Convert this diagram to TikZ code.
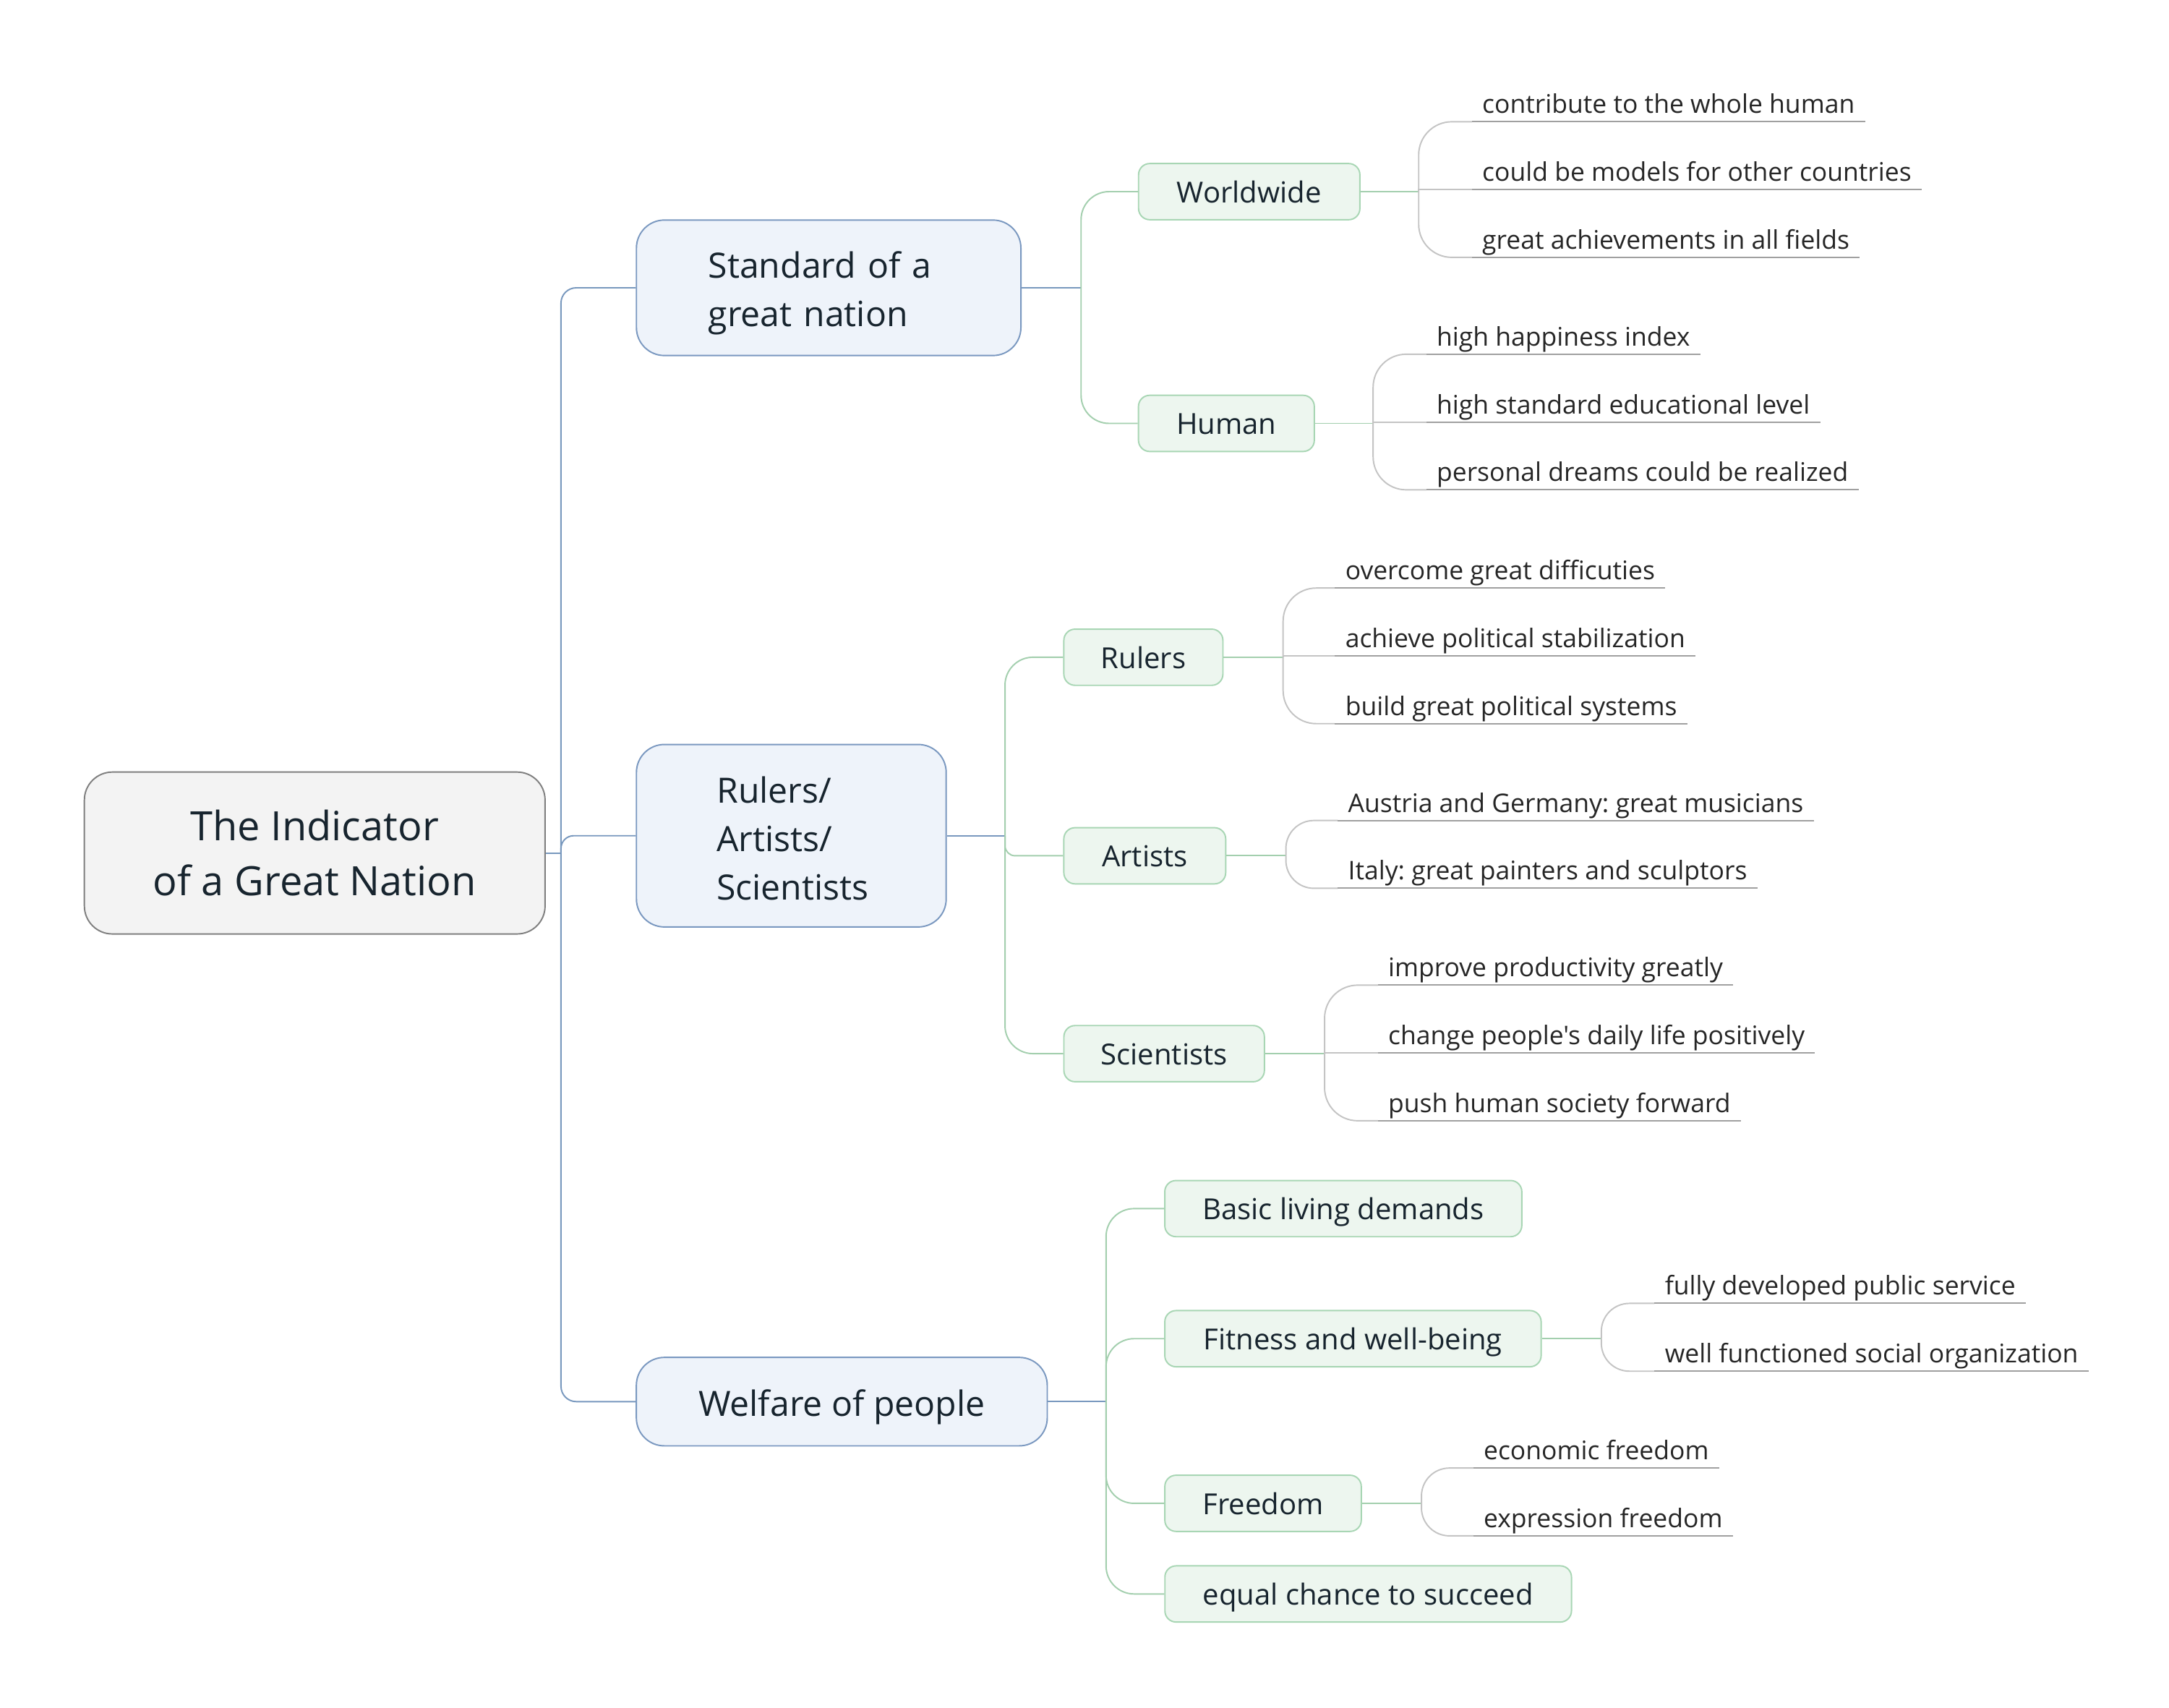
\documentclass[tikz,border=0pt]{standalone}
\usepackage{fontspec}
\setmainfont{Open Sans}[Ligatures=TeXOff]
\frenchspacing
\definecolor{rootfill}{HTML}{F3F3F3}
\definecolor{rootdraw}{HTML}{7F7F7F}
\definecolor{l1fill}{HTML}{EEF3FA}
\definecolor{l1draw}{HTML}{7A98C0}
\definecolor{l2fill}{HTML}{EDF6EF}
\definecolor{l2draw}{HTML}{A8D6B4}
\definecolor{blueline}{HTML}{7898BE}
\definecolor{greenline}{HTML}{A3CFAE}
\definecolor{grayline}{HTML}{C4C4C4}
\definecolor{ulinecol}{HTML}{A0A0A0}
\definecolor{txt}{HTML}{17242E}
\definecolor{leaftxt}{HTML}{262626}
\begin{document}
\begin{tikzpicture}[x=0.019135cm,y=-0.019135cm, line width=0.55pt,
 rootbox/.style={draw=rootdraw, fill=rootfill, rounded corners=11pt, minimum width=181.3pt, minimum height=63.7pt, align=center, inner sep=0pt, text=txt, font=\fontsize{15.9}{21.8}\selectfont},
 mainbox/.style={draw=l1draw, fill=l1fill, rounded corners=11pt, text=txt, font=\fontsize{13.7}{19.1}\selectfont},
 subbox/.style={draw=l2draw, fill=l2fill, rounded corners=4.4pt, minimum height=22.1pt, inner xsep=0pt, text height=9.8pt, text depth=1pt, text=txt, font=\fontsize{11.4}{14}\selectfont},
 leaftext/.style={anchor=south west, inner xsep=3.8pt, inner ysep=0.4pt, text depth=2.6pt, text=leaftxt, font=\fontsize{10.1}{12}\selectfont},
 l1line/.style={draw=blueline},
 l2line/.style={draw=greenline},
 l3line/.style={draw=grayline},
 uline/.style={draw=ulinecol}
]
\fill[white] (0cm,0cm) rectangle (30cm,-23.61cm);
\useasboundingbox (0cm,0cm) rectangle (30cm,-23.61cm);

% root
\node[rootbox] (root) at (227.5,616.5) {The Indicator\\of a Great Nation};

% level 1
\node[mainbox, inner xsep=28.3pt, text width=94.7pt, align=left, minimum height=53.3pt] (std) at (599,208) {\rule{0pt}{14.8pt}Standard of a\\great nation};
\node[mainbox, inner xsep=31.6pt, text width=58.7pt, align=left, minimum height=71.8pt] (ras) at (572,604) {\rule{0pt}{12.6pt}Rulers/\\Artists/\\Scientists};
\node[mainbox, minimum width=161.7pt, minimum height=34.8pt, inner xsep=0pt, text height=12.5pt, text depth=1pt] (wel) at (608.5,1013) {Welfare of people};

% level 2
\node[subbox, minimum width=87.1pt] (ww) at (903,138.5) {Worldwide};
\node[subbox, minimum width=69.2pt] (hu) at (886.5,306) {Human};
\node[subbox, minimum width=62.6pt] (ru) at (826.5,475) {Rulers};
\node[subbox, minimum width=63.7pt] (ar) at (827.5,618.5) {Artists};
\node[subbox, minimum width=78.9pt] (sc) at (841.5,761.5) {Scientists};
\node[subbox, minimum width=140.5pt] (ba) at (971,873.5) {Basic living demands};
\node[subbox, minimum width=148.1pt] (fi) at (978,967.5) {Fitness and well-being};
\node[subbox, minimum width=77.3pt] (fr) at (913,1086.5) {Freedom};
\node[subbox, minimum width=160pt] (eq) at (989,1152) {equal chance to succeed};

% leaves
\node[leaftext] (ww1) at (1064,88) {contribute to the whole human};
\node[leaftext] (ww2) at (1064,137) {could be models for other countries};
\node[leaftext] (ww3) at (1064,186) {great achievements in all fields};
\node[leaftext] (hu1) at (1031,256) {high happiness index};
\node[leaftext] (hu2) at (1031,305) {high standard educational level};
\node[leaftext] (hu3) at (1031,354) {personal dreams could be realized};
\node[leaftext] (ru1) at (965,425) {overcome great difficuties};
\node[leaftext] (ru2) at (965,474) {achieve political stabilization};
\node[leaftext] (ru3) at (965,523) {build great political systems};
\node[leaftext] (ar1) at (967,593) {Austria and Germany: great musicians};
\node[leaftext] (ar2) at (967,642) {Italy: great painters and sculptors};
\node[leaftext] (sc1) at (996,712) {improve productivity greatly};
\node[leaftext] (sc2) at (996,761) {change people's daily life positively};
\node[leaftext] (sc3) at (996,810) {push human society forward};
\node[leaftext] (fi1) at (1196,942) {fully developed public service};
\node[leaftext] (fi2) at (1196,991) {well functioned social organization};
\node[leaftext] (fr1) at (1065,1061) {economic freedom};
\node[leaftext] (fr2) at (1065,1110) {expression freedom};

% root connectors
\draw[l1line] (root.east) -- ++(11,0) coordinate (rj);
\draw[l1line, rounded corners=6pt] (rj) |- (std.west);
\draw[l1line, rounded corners=5pt] (rj) |- (ras.west);
\draw[l1line, rounded corners=6pt] (rj) |- (wel.west);

% level 1 -> level 2
\draw[l1line] (std.east) -- ++(43,0) coordinate (sj);
\draw[l2line, rounded corners=11pt] (sj) |- (ww.west);
\draw[l2line, rounded corners=11pt] (sj) |- (hu.west);

\draw[l1line] (ras.east) -- ++(42,0) coordinate (rsj);
\draw[l2line, rounded corners=11pt] (rsj) |- (ru.west);
\draw[l2line, rounded corners=4pt] (rsj) |- (ar.west);
\draw[l2line, rounded corners=11pt] (rsj) |- (sc.west);

\draw[l1line] (wel.east) -- ++(42,0) coordinate (wj);
\draw[l2line, rounded corners=11pt] (wj) |- (ba.west);
\draw[l2line, rounded corners=11pt] (wj) |- (fi.west);
\draw[l2line, rounded corners=11pt] (wj) |- (fr.west);
\draw[l2line, rounded corners=11pt] (wj) |- (eq.west);

% level 2 -> leaves
\draw[l2line] (ww.east) -- ++(42,0) coordinate (wwj);
\draw[l3line, rounded corners=13pt] (wwj) |- (ww1.south west);
\draw[l3line] (wwj) -- (wwj |- ww2.south) -- (ww2.south west);
\draw[l3line, rounded corners=13pt] (wwj) |- (ww3.south west);

\draw[l2line] (hu.east) -- ++(42,0) coordinate (huj);
\draw[l3line, rounded corners=13pt] (huj) |- (hu1.south west);
\draw[l3line] (huj) -- (huj |- hu2.south) -- (hu2.south west);
\draw[l3line, rounded corners=13pt] (huj) |- (hu3.south west);

\draw[l2line] (ru.east) -- ++(43,0) coordinate (ruj);
\draw[l3line, rounded corners=13pt] (ruj) |- (ru1.south west);
\draw[l3line] (ruj) -- (ruj |- ru2.south) -- (ru2.south west);
\draw[l3line, rounded corners=13pt] (ruj) |- (ru3.south west);

\draw[l2line] (ar.east) -- ++(43,0) coordinate (arj);
\draw[l3line, rounded corners=11pt] (arj) |- (ar1.south west);
\draw[l3line, rounded corners=11pt] (arj) |- (ar2.south west);

\draw[l2line] (sc.east) -- ++(43,0) coordinate (scj);
\draw[l3line, rounded corners=13pt] (scj) |- (sc1.south west);
\draw[l3line] (scj) -- (scj |- sc2.south) -- (sc2.south west);
\draw[l3line, rounded corners=13pt] (scj) |- (sc3.south west);

\draw[l2line] (fi.east) -- ++(43,0) coordinate (fij);
\draw[l3line, rounded corners=11pt] (fij) |- (fi1.south west);
\draw[l3line, rounded corners=11pt] (fij) |- (fi2.south west);

\draw[l2line] (fr.east) -- ++(43,0) coordinate (frj);
\draw[l3line, rounded corners=11pt] (frj) |- (fr1.south west);
\draw[l3line, rounded corners=11pt] (frj) |- (fr2.south west);

% underlines
\foreach \n in {ww1,ww2,ww3,hu1,hu2,hu3,ru1,ru2,ru3,ar1,ar2,sc1,sc2,sc3,fi1,fi2,fr1,fr2}
  \draw[uline] (\n.south west) -- (\n.south east);
\end{tikzpicture}
\end{document}
